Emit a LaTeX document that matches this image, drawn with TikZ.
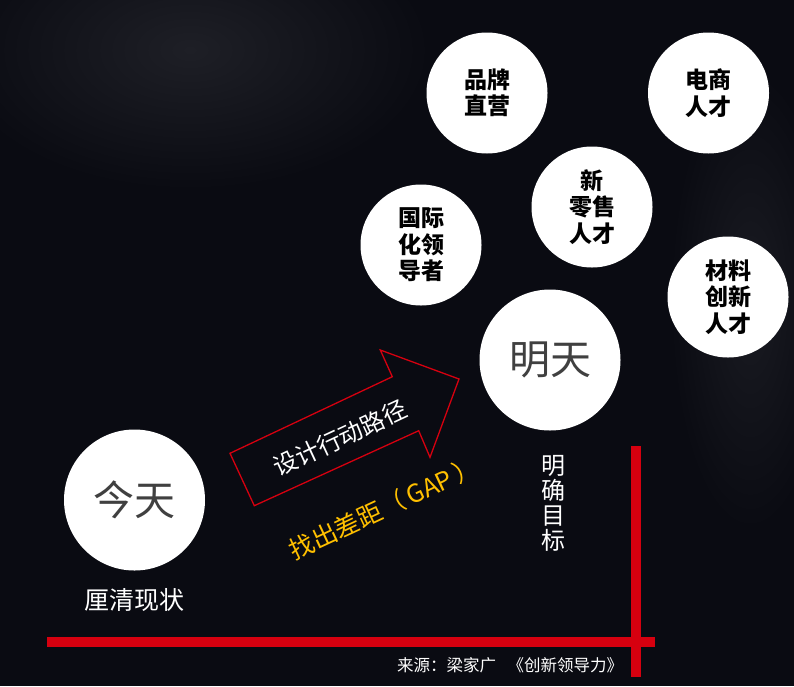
\documentclass[tikz,border=0pt]{standalone}
\usepackage{fontspec}
\newfontfamily\cjk{Noto Sans CJK SC}
\definecolor{bg}{RGB}{10,11,18}
\definecolor{bgl}{RGB}{30,31,38}
\definecolor{redl}{RGB}{214,0,15}
\definecolor{gold}{RGB}{255,192,0}
\definecolor{grey}{RGB}{64,64,64}
\tikzset{
  smallc/.style={circle,fill=white,minimum size=121pt,inner sep=0pt,align=center,
    font=\cjk\bfseries\fontsize{23}{26.5}\selectfont,text=black},
  bigc/.style={circle,fill=white,minimum size=141pt,inner sep=0pt,
    font=\cjk\fontsize{41}{44}\selectfont,text=grey},
  redbar/.style={draw=redl,line width=10pt},
  arrowline/.style={draw=redl,line width=1.3pt,line join=miter},
  lbl/.style={text=white,inner sep=0pt}
}
\begin{document}
\begin{tikzpicture}[x=1pt,y=-1pt]
\useasboundingbox (0,0) rectangle (794,686);
\fill[bg] (0,0) rectangle (794,686);
% faint background sheen
\shade[inner color=bgl,outer color=bg] (190,50) ellipse (240 and 140);
\shade[inner color=bgl!80!bg,outer color=bg] (750,300) ellipse (80 and 230);
% circles
\node[smallc] (brand) at (487,93) {品牌\\直营};
\node[smallc] (ecom) at (708.5,93) {电商\\人才};
\node[smallc] (retail) at (592,207) {新\\零售\\人才};
\node[smallc] (intl) at (421,245) {国际\\化领\\导者};
\node[smallc] (mat) at (728,297) {材料\\创新\\人才};
\node[bigc] (tmr) at (550,360) {明天};
\node[bigc] (today) at (134.5,500) {今天};
% labels
\node[lbl,font=\cjk\fontsize{25}{25}\selectfont] (clarify) at (134.5,600) {厘清现状};
\node[lbl,align=center,font=\cjk\fontsize{24}{25}\selectfont] (goal) at (553,503) {明\\确\\目\\标};
% arrow
\coordinate (a1) at (254.3,505.7);
\coordinate (a2) at (230,453.3);
\coordinate (a3) at (392.3,376.7);
\coordinate (a4) at (380.3,350);
\coordinate (a5) at (459,379);
\coordinate (a6) at (430,457.3);
\coordinate (a7) at (418.7,430.7);
\draw[arrowline] (a1) -- (a2) -- (a3) -- (a4) -- (a5) -- (a6) -- (a7) -- cycle;
\node[lbl,rotate=25,font=\cjk\fontsize{24}{24}\selectfont] (path) at (340,438) {设计行动路径};
\node[text=gold,inner sep=0pt,rotate=25,font=\cjk\fontsize{25}{25}\selectfont] (gap) at (384,508) {找出差距（\,GAP\,）};
% red axes
\coordinate (h1) at (47,642);
\coordinate (h2) at (655,642);
\coordinate (v1) at (636,446);
\coordinate (v2) at (636,677);
\draw[redbar] (h1) -- (h2);
\draw[redbar] (v1) -- (v2);
% source
\node[lbl,anchor=west,font=\cjk\fontsize{16.5}{16.5}\selectfont] (src) at (397,665) {来源：梁家广\hspace{0.7em}《创新领导力》};
\end{tikzpicture}
\end{document}
